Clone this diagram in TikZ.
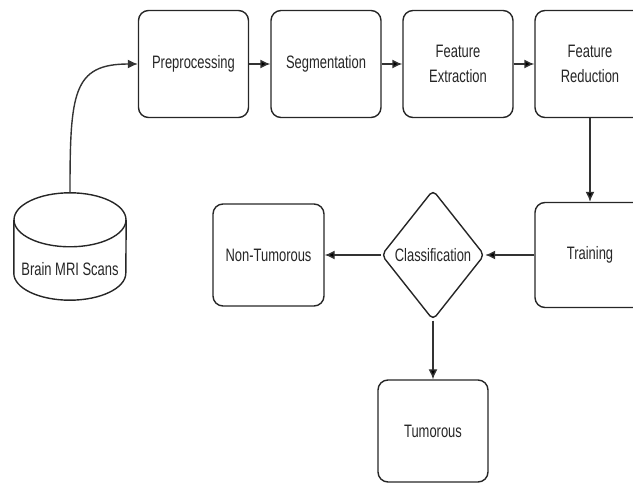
\documentclass[tikz,border=0pt]{standalone}
\usepackage{fontspec}
\setmainfont[FakeStretch=0.72]{Liberation Sans}
\usepackage{tikz}
\usetikzlibrary{shapes.geometric, arrows.meta}

\begin{document}
\begin{tikzpicture}[x=1pt, y=-1pt,
        font=\fontsize{18}{25}\selectfont,
        stage/.style={draw=black!85, line width=1.4pt, rounded corners=10pt, align=center, text=black!85, minimum width=110pt, minimum height=107pt},
        flow/.style={draw=black!80, line width=1.4pt, -{Latex[length=10pt,width=9pt]}}]
        \useasboundingbox (0,0) rectangle (633,484);

        \node[stage] (pre) at (193.5, 64) {Preprocessing};
        \node[stage] (seg) at (326, 64) {Segmentation};
        \node[stage] (fex) at (458, 64) {Feature\\Extraction};
        \node[stage] (fred) at (590, 64) {Feature\\Reduction};
        \node[stage, minimum height=105pt] (train) at (590, 255) {Training};
        \node[draw=black!85, line width=1.4pt, diamond, aspect=0.79, inner sep=0pt, minimum width=103pt, minimum height=130pt, rounded corners=5pt, text=black!85] (cls) at (433, 255) {Classification};
        \node[stage, minimum width=111pt, minimum height=102pt] (nontum) at (268.5, 255) {Non-Tumorous};
        \node[stage, minimum height=102pt] (tum) at (433, 431) {Tumorous};

        % scans: a cylinder drawn round its node
        \node[inner sep=0pt, minimum width=112pt, minimum height=107pt, text=black!85] (scan) at (70, 246.5) {\raisebox{-29pt}[0pt][0pt]{Brain MRI Scans}};
        \draw[draw=black!85, line width=1.4pt] ([yshift=-27pt]scan.north) ellipse [x radius=56pt, y radius=27pt];
        \draw[draw=black!85, line width=1.4pt] ([yshift=-27pt]scan.north west) -- ([yshift=27pt]scan.south west)
            arc [start angle=180, end angle=360, x radius=56pt, y radius=27pt] -- ([yshift=-27pt]scan.north east);

        \draw[flow] (scan.north) .. controls +(0,-100) and +(-65,0) .. (pre.west);

        \path [flow] (pre) edge (seg);
        \path [flow] (seg) edge (fex);
        \path [flow] (fex) edge (fred);

        \path [flow] (fred) edge (train);
        \path [flow] (train) edge (cls);

        \path [flow] (cls) edge (nontum);
        \path [flow] (cls) edge (tum);
    \end{tikzpicture}
\end{document}
